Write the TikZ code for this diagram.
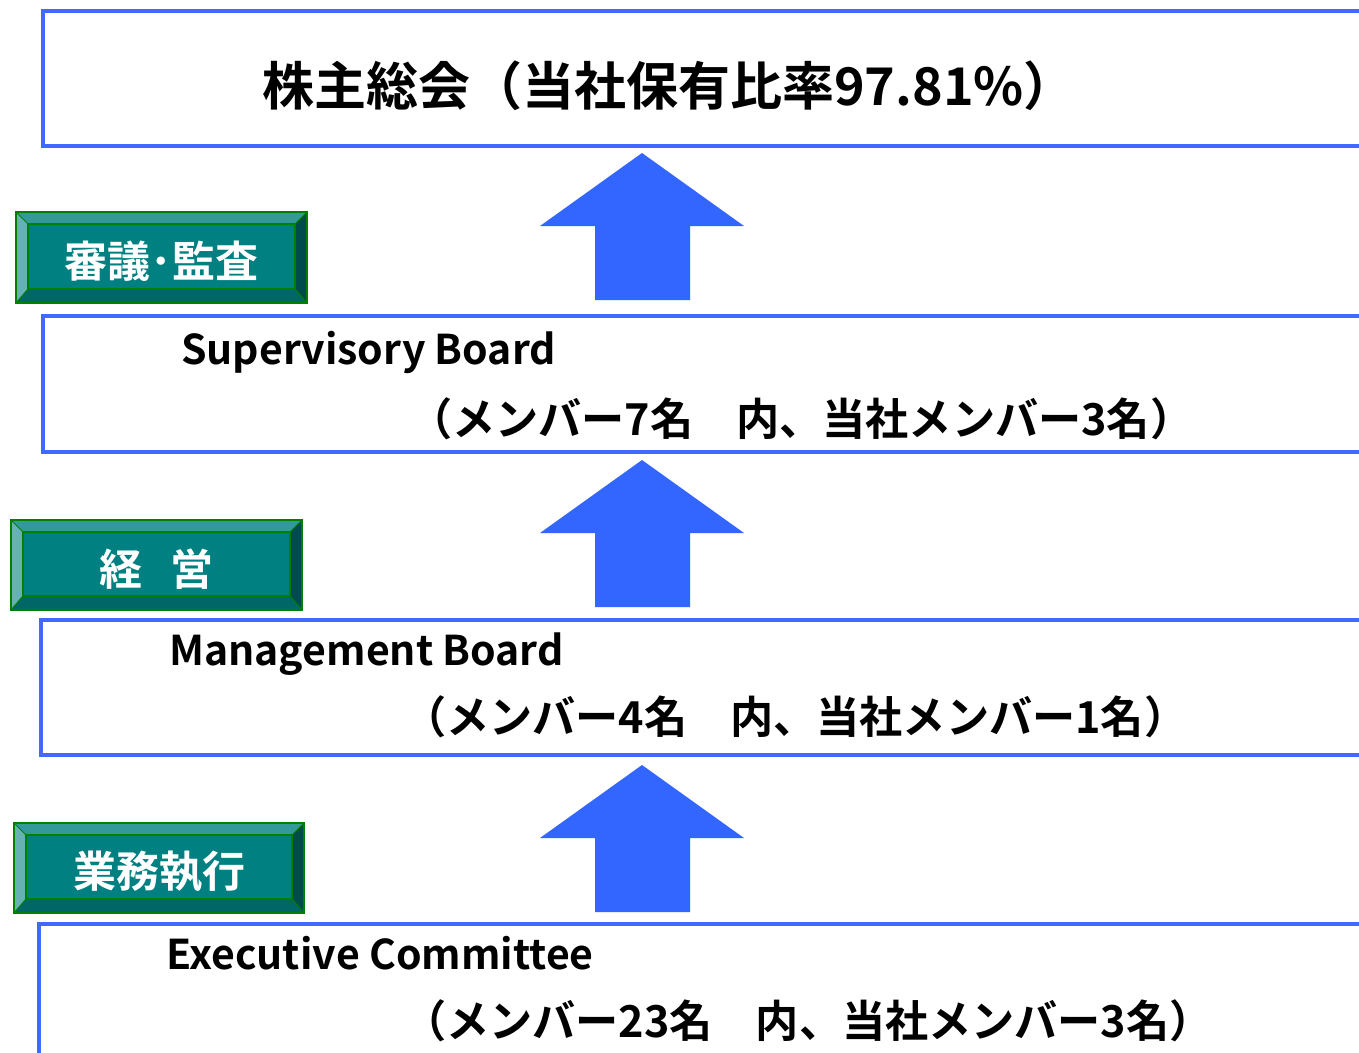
\documentclass[tikz,border=0pt]{standalone}
\usepackage{fontspec}
\newfontfamily\jp{Noto Sans CJK JP}[BoldFont={Noto Sans CJK JP Bold}]
\definecolor{lineblue}{RGB}{65,105,255}
\definecolor{arrowblue}{RGB}{51,102,255}
\definecolor{tealc}{RGB}{0,128,128}
\definecolor{tealtop}{RGB}{51,153,153}
\definecolor{tealleft}{RGB}{102,178,178}
\definecolor{tealright}{RGB}{0,76,76}
\definecolor{tealbot}{RGB}{0,102,102}
\definecolor{bevelgreen}{RGB}{0,128,0}
\tikzset{
  bluebox/.style={draw=lineblue, line width=4pt, fill=white, rectangle, anchor=north west, inner sep=0pt},
  titletext/.style={font=\jp\bfseries\fontsize{52}{56}\selectfont, inner sep=0pt},
  entext/.style={font=\jp\bfseries\fontsize{41}{44}\selectfont, inner sep=0pt, anchor=base west},
  jptext/.style={font=\jp\bfseries\fontsize{44}{48}\selectfont, inner sep=0pt, anchor=west},
  labeltext/.style={font=\jp\bfseries\fontsize{43}{46}\selectfont, text=white, inner sep=0pt},
  uparrow/.style={fill=arrowblue, draw=none}
}
\newcommand\cond[1]{\scalebox{0.98}[1]{#1}}
\newcommand\bevel[5]{% x1 y1 x2 y2 name
  \fill[tealtop] (#1,#2) -- (#3,#2) -- (#3-12,#2+12) -- (#1+12,#2+12) -- cycle;
  \fill[tealleft] (#1,#2) -- (#1+12,#2+12) -- (#1+12,#4-14) -- (#1,#4) -- cycle;
  \fill[tealright] (#3,#2) -- (#3,#4) -- (#3-12,#4-14) -- (#3-12,#2+12) -- cycle;
  \fill[tealbot] (#1,#4) -- (#1+12,#4-14) -- (#3-12,#4-14) -- (#3,#4) -- cycle;
  \fill[tealc] (#1+12,#2+12) rectangle (#3-12,#4-14);
  \draw[bevelgreen, line width=1.5pt] (#1,#2) rectangle (#3,#4);
  \draw[bevelgreen, line width=1.5pt] (#1+12,#2+12) rectangle (#3-12,#4-14);
  \draw[bevelgreen, line width=1pt] (#1,#2) -- (#1+12,#2+12) (#3,#2) -- (#3-12,#2+12) (#1,#4) -- (#1+12,#4-14) (#3,#4) -- (#3-12,#4-14);
  \coordinate (#5) at ({(#1+#3)/2},{(#2+#4)/2+4});
}
\newcommand\uparr[2]{% tip y, name
  \coordinate (#2) at (642,#1);
  \fill[uparrow] (#2) -- (744,#1+73) -- (690,#1+73) -- (690,#1+147) -- (595,#1+147) -- (595,#1+73) -- (540,#1+73) -- cycle;
}
\begin{document}
\begin{tikzpicture}[x=1pt,y=-1pt]
\useasboundingbox (0,0) rectangle (1359,1052);
\clip (0,0) rectangle (1359,1052);
\fill[white] (0,0) rectangle (1359,1052);
% boxes
\node[bluebox, minimum width=1400pt, minimum height=135pt] (gm) at (41,9) {};
\node[bluebox, minimum width=1400pt, minimum height=136pt] (sb) at (41,314) {};
\node[bluebox, minimum width=1400pt, minimum height=135pt] (mb) at (39,618) {};
\node[bluebox, minimum width=1400pt, minimum height=200pt] (ec) at (37,922) {};
% texts
\node[titletext, anchor=west] (t0) at (262,86) {株主総会（当社保有比率97.81\%）};
\node[entext] (t1) at (181,364) {Supervisory Board};
\node[jptext] (t1b) at (409,419) {\cond{（メンバー7名　内、当社メンバー3名）}};
\node[entext] (t2) at (169,665) {Management Board};
\node[jptext] (t2b) at (403,717) {\cond{（メンバー4名　内、当社メンバー1名）}};
\node[entext] (t3) at (166,969) {Executive Committee};
\node[jptext] (t3b) at (403,1021) {\cond{（メンバー23名　内、当社メンバー3名）}};
% arrows
\uparr{153}{a1}
\uparr{460}{a2}
\uparr{765}{a3}
% labels
\bevel{16}{212}{307}{303}{l1c}
\node[labeltext] (l1) at (l1c) {審議･監査};
\bevel{11}{520}{302}{610}{l2c}
\node[labeltext] (l2) at (l2c) {経\hspace{29pt}営};
\bevel{14}{823}{304}{913}{l3c}
\node[labeltext] (l3) at (l3c) {業務執行};
\end{tikzpicture}
\end{document}
